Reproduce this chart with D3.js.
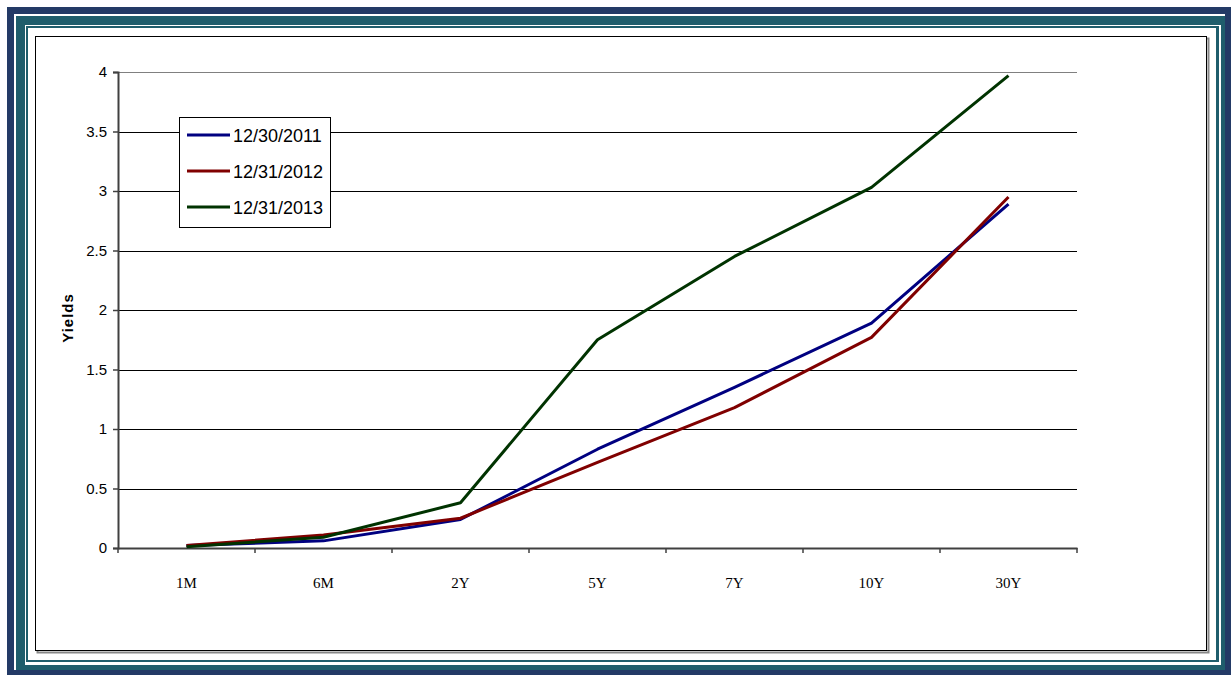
<!DOCTYPE html>
<html><head><meta charset="utf-8">
<script src="https://cdn.jsdelivr.net/npm/d3@7"></script>
<style>html,body{margin:0;padding:0;background:#fff;}svg{display:block;}</style>
</head><body>
<svg id="c" width="1231" height="675"></svg>
<script>
const categories = ["1M","6M","2Y","5Y","7Y","10Y","30Y"];
const seriesNames = ["12/30/2011","12/31/2012","12/31/2013"];
const y2011 = [0.02,0.06,0.24,0.83,1.35,1.89,2.89];
const y2012 = [0.02,0.11,0.25,0.72,1.18,1.77,2.95];
const y2013 = [0.01,0.09,0.38,1.75,2.45,3.03,3.97];
const yTicks = [0,0.5,1,1.5,2,2.5,3,3.5,4];
const colors = ["#000080","#800000","#003300"];
const series = [y2011,y2012,y2013];

const svg = d3.select("#c");
// frame
svg.append("rect").attr("x",7).attr("y",7).attr("width",1224).attr("height",668).attr("fill","#233a66");
svg.append("rect").attr("x",14).attr("y",14).attr("width",1211).attr("height",656).attr("fill","#ffffff");
svg.append("rect").attr("x",16).attr("y",16).attr("width",1209).attr("height",654).attr("fill","#1f5d6c");
svg.append("rect").attr("x",25).attr("y",25).attr("width",1196).attr("height",640).attr("fill","#ffffff");
svg.append("rect").attr("x",26).attr("y",26).attr("width",1193).attr("height",636).attr("fill","#1f5d6c");
svg.append("rect").attr("x",28).attr("y",28).attr("width",1188).attr("height",632).attr("fill","#ffffff");
// chart box with shadow
svg.append("rect").attr("x",37.5).attr("y",38.5).attr("width",1171).attr("height",614).attr("fill","none").attr("stroke","#888").attr("stroke-width",2);
svg.append("rect").attr("x",35.5).attr("y",36.5).attr("width",1171).attr("height",614).attr("fill","#fff").attr("stroke","#000").attr("stroke-width",1);

const L=118, R=1077, T=72, B=548;
const x = d3.scaleBand().domain(categories).range([L,R]);
const y = d3.scaleLinear().domain([0,4]).range([B,T]);

// gridlines
svg.append("g").selectAll("line").data(yTicks.filter(d=>d>0)).join("line")
  .attr("x1",L).attr("x2",R).attr("y1",d=>Math.round(y(d))+0.5).attr("y2",d=>Math.round(y(d))+0.5)
  .attr("stroke",(d,i)=>d===4?"#808080":"#000").attr("stroke-width",1);

// y axis
const ya = svg.append("g").attr("transform",`translate(${L},0)`)
  .call(d3.axisLeft(y).tickValues(yTicks).tickSize(5).tickPadding(6).tickFormat(d=>String(d)));
ya.select(".domain").attr("stroke","#404040").attr("stroke-width",2);
ya.selectAll(".tick line").attr("stroke","#404040").attr("stroke-width",1.5);
ya.selectAll("text").attr("font-family","'Liberation Sans',Arial,sans-serif").attr("font-size",15).attr("fill","#000");

// x axis
const xa = svg.append("g").attr("transform",`translate(0,${B})`)
  .call(d3.axisBottom(x).tickSize(0).tickPadding(29));
xa.select(".domain").attr("stroke","#404040").attr("stroke-width",2);
xa.selectAll("text").attr("font-family","'Liberation Serif','Times New Roman',serif").attr("font-size",15).attr("fill","#000");
// band boundary ticks
svg.append("g").selectAll("line").data(d3.range(categories.length+1)).join("line")
  .attr("x1",i=>L+i*x.step()).attr("x2",i=>L+i*x.step()).attr("y1",B).attr("y2",B+5)
  .attr("stroke","#404040").attr("stroke-width",1.5);

// axis title
svg.append("text").attr("transform",`translate(73,318) rotate(-90)`).attr("text-anchor","middle")
  .attr("font-family","'Liberation Sans',Arial,sans-serif").attr("font-weight","bold").attr("font-size",15)
  .attr("letter-spacing",1).text("Yields");

// lines
const line = d3.line().x((d,i)=>x(categories[i])+x.bandwidth()/2).y(d=>y(d));
series.forEach((s,k)=>{
  svg.append("path").datum(s).attr("d",line).attr("fill","none").attr("stroke",colors[k]).attr("stroke-width",3).attr("stroke-linejoin","round");
});

// legend
const lg = svg.append("g");
lg.append("rect").attr("x",179.5).attr("y",117.5).attr("width",151).attr("height",110).attr("fill","#fff").attr("stroke","#000");
seriesNames.forEach((n,k)=>{
  const yy = 135+k*36;
  lg.append("line").attr("x1",187).attr("x2",230).attr("y1",yy).attr("y2",yy).attr("stroke",colors[k]).attr("stroke-width",3);
  lg.append("text").attr("x",233).attr("y",yy+7).attr("font-family","'Liberation Sans',Arial,sans-serif").attr("font-size",18).text(n);
});
</script>
</body></html>
